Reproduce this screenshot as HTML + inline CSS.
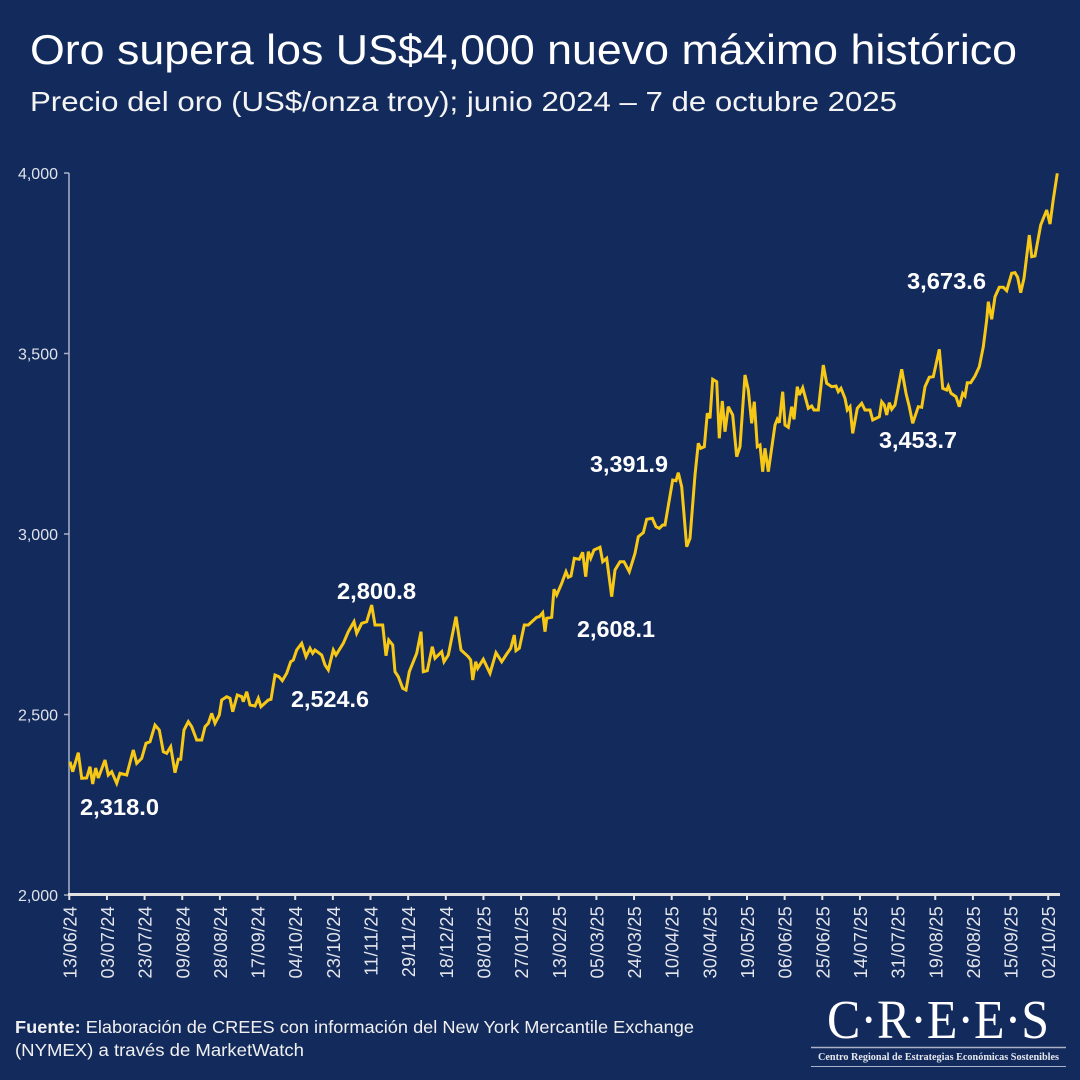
<!DOCTYPE html>
<html><head><meta charset="utf-8"><style>
html,body{margin:0;padding:0;background:#132a5c;}
svg{display:block;}
</style></head><body>
<svg width="1080" height="1080" viewBox="0 0 1080 1080" xmlns="http://www.w3.org/2000/svg" font-family="'Liberation Sans', sans-serif">
<rect width="1080" height="1080" fill="#132a5c"/>
<text x="30" y="64" font-size="42" fill="#ffffff" textLength="987" lengthAdjust="spacingAndGlyphs">Oro supera los US$4,000 nuevo máximo histórico</text>
<text x="30" y="111" font-size="28" fill="#f4f4f4" textLength="867" lengthAdjust="spacingAndGlyphs">Precio del oro (US$/onza troy); junio 2024 – 7 de octubre 2025</text>
<g stroke="#a9b2c6" stroke-width="1.5">
<line x1="69" y1="173" x2="69" y2="895"/>
<line x1="64" y1="173" x2="69" y2="173"/>
<line x1="64" y1="353.5" x2="69" y2="353.5"/>
<line x1="64" y1="534" x2="69" y2="534"/>
<line x1="64" y1="714.5" x2="69" y2="714.5"/>
<line x1="64" y1="895" x2="69" y2="895"/>
</g>
<g font-size="16" fill="#dfe3ea" text-anchor="end">
<text x="58" y="179">4,000</text>
<text x="58" y="359.5">3,500</text>
<text x="58" y="540">3,000</text>
<text x="58" y="720.5">2,500</text>
<text x="58" y="901">2,000</text>
</g>
<line x1="68" y1="894.5" x2="1060" y2="894.5" stroke="#e2e2e2" stroke-width="3"/>
<g stroke="#e2e2e2" stroke-width="2">
<line x1="69.3" y1="896" x2="69.3" y2="900"/><line x1="106.95" y1="896" x2="106.95" y2="900"/><line x1="144.6" y1="896" x2="144.6" y2="900"/><line x1="182.25" y1="896" x2="182.25" y2="900"/><line x1="219.9" y1="896" x2="219.9" y2="900"/><line x1="257.55" y1="896" x2="257.55" y2="900"/><line x1="295.2" y1="896" x2="295.2" y2="900"/><line x1="332.85" y1="896" x2="332.85" y2="900"/><line x1="370.5" y1="896" x2="370.5" y2="900"/><line x1="408.15" y1="896" x2="408.15" y2="900"/><line x1="445.8" y1="896" x2="445.8" y2="900"/><line x1="483.45" y1="896" x2="483.45" y2="900"/><line x1="521.1" y1="896" x2="521.1" y2="900"/><line x1="558.75" y1="896" x2="558.75" y2="900"/><line x1="596.4" y1="896" x2="596.4" y2="900"/><line x1="634.05" y1="896" x2="634.05" y2="900"/><line x1="671.7" y1="896" x2="671.7" y2="900"/><line x1="709.35" y1="896" x2="709.35" y2="900"/><line x1="747" y1="896" x2="747" y2="900"/><line x1="784.65" y1="896" x2="784.65" y2="900"/><line x1="822.3" y1="896" x2="822.3" y2="900"/><line x1="859.95" y1="896" x2="859.95" y2="900"/><line x1="897.6" y1="896" x2="897.6" y2="900"/><line x1="935.25" y1="896" x2="935.25" y2="900"/><line x1="972.9" y1="896" x2="972.9" y2="900"/><line x1="1010.55" y1="896" x2="1010.55" y2="900"/><line x1="1048.2" y1="896" x2="1048.2" y2="900"/>
</g>
<g font-size="18" fill="#e4e6ec" text-anchor="end" letter-spacing="0.3">
<text transform="translate(76.3,906) rotate(-90)">13/06/24</text>
<text transform="translate(113.95,906) rotate(-90)">03/07/24</text>
<text transform="translate(151.6,906) rotate(-90)">23/07/24</text>
<text transform="translate(189.25,906) rotate(-90)">09/08/24</text>
<text transform="translate(226.9,906) rotate(-90)">28/08/24</text>
<text transform="translate(264.55,906) rotate(-90)">17/09/24</text>
<text transform="translate(302.2,906) rotate(-90)">04/10/24</text>
<text transform="translate(339.85,906) rotate(-90)">23/10/24</text>
<text transform="translate(377.5,906) rotate(-90)">11/11/24</text>
<text transform="translate(415.15,906) rotate(-90)">29/11/24</text>
<text transform="translate(452.8,906) rotate(-90)">18/12/24</text>
<text transform="translate(490.45,906) rotate(-90)">08/01/25</text>
<text transform="translate(528.1,906) rotate(-90)">27/01/25</text>
<text transform="translate(565.75,906) rotate(-90)">13/02/25</text>
<text transform="translate(603.4,906) rotate(-90)">05/03/25</text>
<text transform="translate(641.05,906) rotate(-90)">24/03/25</text>
<text transform="translate(678.7,906) rotate(-90)">10/04/25</text>
<text transform="translate(716.35,906) rotate(-90)">30/04/25</text>
<text transform="translate(754,906) rotate(-90)">19/05/25</text>
<text transform="translate(791.65,906) rotate(-90)">06/06/25</text>
<text transform="translate(829.3,906) rotate(-90)">25/06/25</text>
<text transform="translate(866.95,906) rotate(-90)">14/07/25</text>
<text transform="translate(904.6,906) rotate(-90)">31/07/25</text>
<text transform="translate(942.25,906) rotate(-90)">19/08/25</text>
<text transform="translate(979.9,906) rotate(-90)">26/08/25</text>
<text transform="translate(1017.55,906) rotate(-90)">15/09/25</text>
<text transform="translate(1055.2,906) rotate(-90)">02/10/25</text>
</g>
<polyline fill="none" stroke="#f7c815" stroke-width="3" stroke-linejoin="miter" stroke-miterlimit="3" points="70,761.7 72.7,771.7 78.3,752.7 81.7,778.3 86.7,778 90,766.7 92.7,784 95.7,768 98.3,778 105,760 108.3,775 111.7,771.7 116.7,783.3 120,773.3 126.7,775 133.3,750 136.7,763.3 141.7,758.3 146,743.3 150,741.7 155,725 159.3,730 163.3,751.7 166.7,753.3 170.7,746.7 175,772.7 178.3,759.3 180.7,759.3 184,730 188.3,721.7 191.7,726.7 196.7,740 201.7,740 205,726.7 208.3,723.3 211.7,713.3 215,723.3 219.3,715 221.7,700 226.7,696.7 230,698.3 232.7,711.7 237.3,695 241.7,696.7 243.3,701.7 246.7,691.7 250,705 255,706 258.3,698.3 261,706.7 268.3,700 271,699.3 275,675 279,676.7 282.3,680.7 286.7,673.3 290.7,661.7 293.3,660 296.7,650 301.7,643.3 306,656.7 310,648.3 312.7,653.3 315,650 321.7,655 325,665 328.3,670 333.3,650 336,655 343.3,643.3 348.3,631.7 354,621.7 356.7,633.3 361.7,623.3 366.7,621.7 371.7,605 375,625 382.7,625 386,655.7 388.7,640 392.7,645 395,671.7 398.3,676.7 402.7,688.3 406,690 409.3,671.7 416.7,653.3 421,631.7 423.3,671.7 427.3,670.7 432.3,646.7 435,658.3 441.7,651.7 444,661.7 448.3,655 456,616.7 461,650 468.3,656.7 470.7,660 472.7,680 475.7,661.7 477.7,668.3 483.3,659.3 490,673.3 496,652.7 501.7,661.7 506.7,654 510.7,648.3 514.3,635 516,650.7 519.3,648.3 524.3,625 528.3,625 536.7,617.3 539.3,616.7 542.7,612.7 545,631.7 546.7,618.3 551.7,617.3 554,589.3 556.7,595 561.7,583.3 566,571.7 568.3,577.3 571,576 574.3,558.3 579.3,559.3 582.7,552.3 585.7,576.7 588.3,551.7 590.7,558.3 594,550 600,547.3 602.7,561.7 606.7,558.3 611.7,596.7 615,570 620,561.7 624,561.7 629.3,571.7 635,553.3 638.3,536.7 643.3,532.7 646.7,519.3 652.3,518.3 656,526.7 659.3,528.3 662.7,525 665,525 672.7,480 676,480.7 678.3,472.7 681.7,486.7 686.7,546.7 690,538.3 695,475 698.3,443.3 700.7,448.3 704.3,446.7 707.3,413.3 710,418.3 712.7,379.3 716.7,381.7 719.3,438.3 722.3,401 725,431.7 728.3,406.7 732.7,415 736.7,456.7 740,446.7 745,375 748.3,390 751.7,423.3 754.3,401.7 757.3,446.7 760,445 762.7,471.7 765,448.3 768.3,471.7 775,425 777.3,419.3 779.3,422.7 782.7,391.7 785,425 788.3,427.3 791.7,406.7 794,419.3 797.3,386.7 799.3,395 802.7,387.7 808.3,408.3 811.7,406 814,410 818.3,410 823.3,365 826.7,383.3 831.7,386.7 836,386 838.3,391.7 841,388.3 845,398.3 847.3,410 850,406.7 852.7,433.3 857.3,408.3 861.7,403.3 865,410 870,410 872.7,420 879.3,416.7 881.7,401.7 884.3,405 886.7,415 889.3,402.7 891.7,409.3 895,405 901.7,369.3 906,393.3 909.3,406.7 912.7,423.3 918.3,406.7 921.7,407.3 925,386.7 929.3,377.3 933.3,376.7 939.3,349.3 942.7,388.3 946.7,390 948.3,386 951,393.3 956,396.7 959.3,406.7 962.7,393.3 965,396 967.3,382.7 970.7,382.7 975,376 979.3,366.7 983.3,346.7 986.7,320 988.3,301.7 991.7,319.3 995,296.7 999.3,287.3 1003.3,287.3 1006.7,290.7 1011.7,273.3 1015,272.7 1017.7,277.3 1020.7,292.7 1024,278.3 1029.3,235 1031.7,256.7 1035,256 1040.7,225 1046.7,210 1050,224 1053.3,199.3 1057.3,173.3"/>
<g font-size="23.5" font-weight="bold" fill="#ffffff">
<text x="80" y="815" textLength="79" lengthAdjust="spacingAndGlyphs">2,318.0</text>
<text x="291" y="707" textLength="78" lengthAdjust="spacingAndGlyphs">2,524.6</text>
<text x="337" y="599" textLength="79" lengthAdjust="spacingAndGlyphs">2,800.8</text>
<text x="577" y="637" textLength="78" lengthAdjust="spacingAndGlyphs">2,608.1</text>
<text x="590" y="472" textLength="78" lengthAdjust="spacingAndGlyphs">3,391.9</text>
<text x="879" y="448" textLength="78" lengthAdjust="spacingAndGlyphs">3,453.7</text>
<text x="907" y="289" textLength="79" lengthAdjust="spacingAndGlyphs">3,673.6</text>
</g>
<g font-size="17.5" fill="#f0f0f0">
<text x="15" y="1033" textLength="679" lengthAdjust="spacingAndGlyphs"><tspan font-weight="bold">Fuente:</tspan> Elaboración de CREES con información del New York Mercantile Exchange</text>
<text x="15" y="1056" textLength="289" lengthAdjust="spacingAndGlyphs">(NYMEX) a través de MarketWatch</text>
</g>
<text x="827" y="1038" font-family="'Liberation Serif', serif" font-size="55" fill="#ffffff" textLength="222" lengthAdjust="spacingAndGlyphs">C·R·E·E·S</text>
<line x1="811" y1="1047.5" x2="1066" y2="1047.5" stroke="#a9b2c6" stroke-width="1.5"/>
<text x="818" y="1060" font-family="'Liberation Serif', serif" font-size="11" font-weight="bold" fill="#e6e8ee" textLength="241" lengthAdjust="spacingAndGlyphs">Centro Regional de Estrategias Económicas Sostenibles</text>
<line x1="811" y1="1066.5" x2="1066" y2="1066.5" stroke="#a9b2c6" stroke-width="1"/>
</svg>
</body></html>
